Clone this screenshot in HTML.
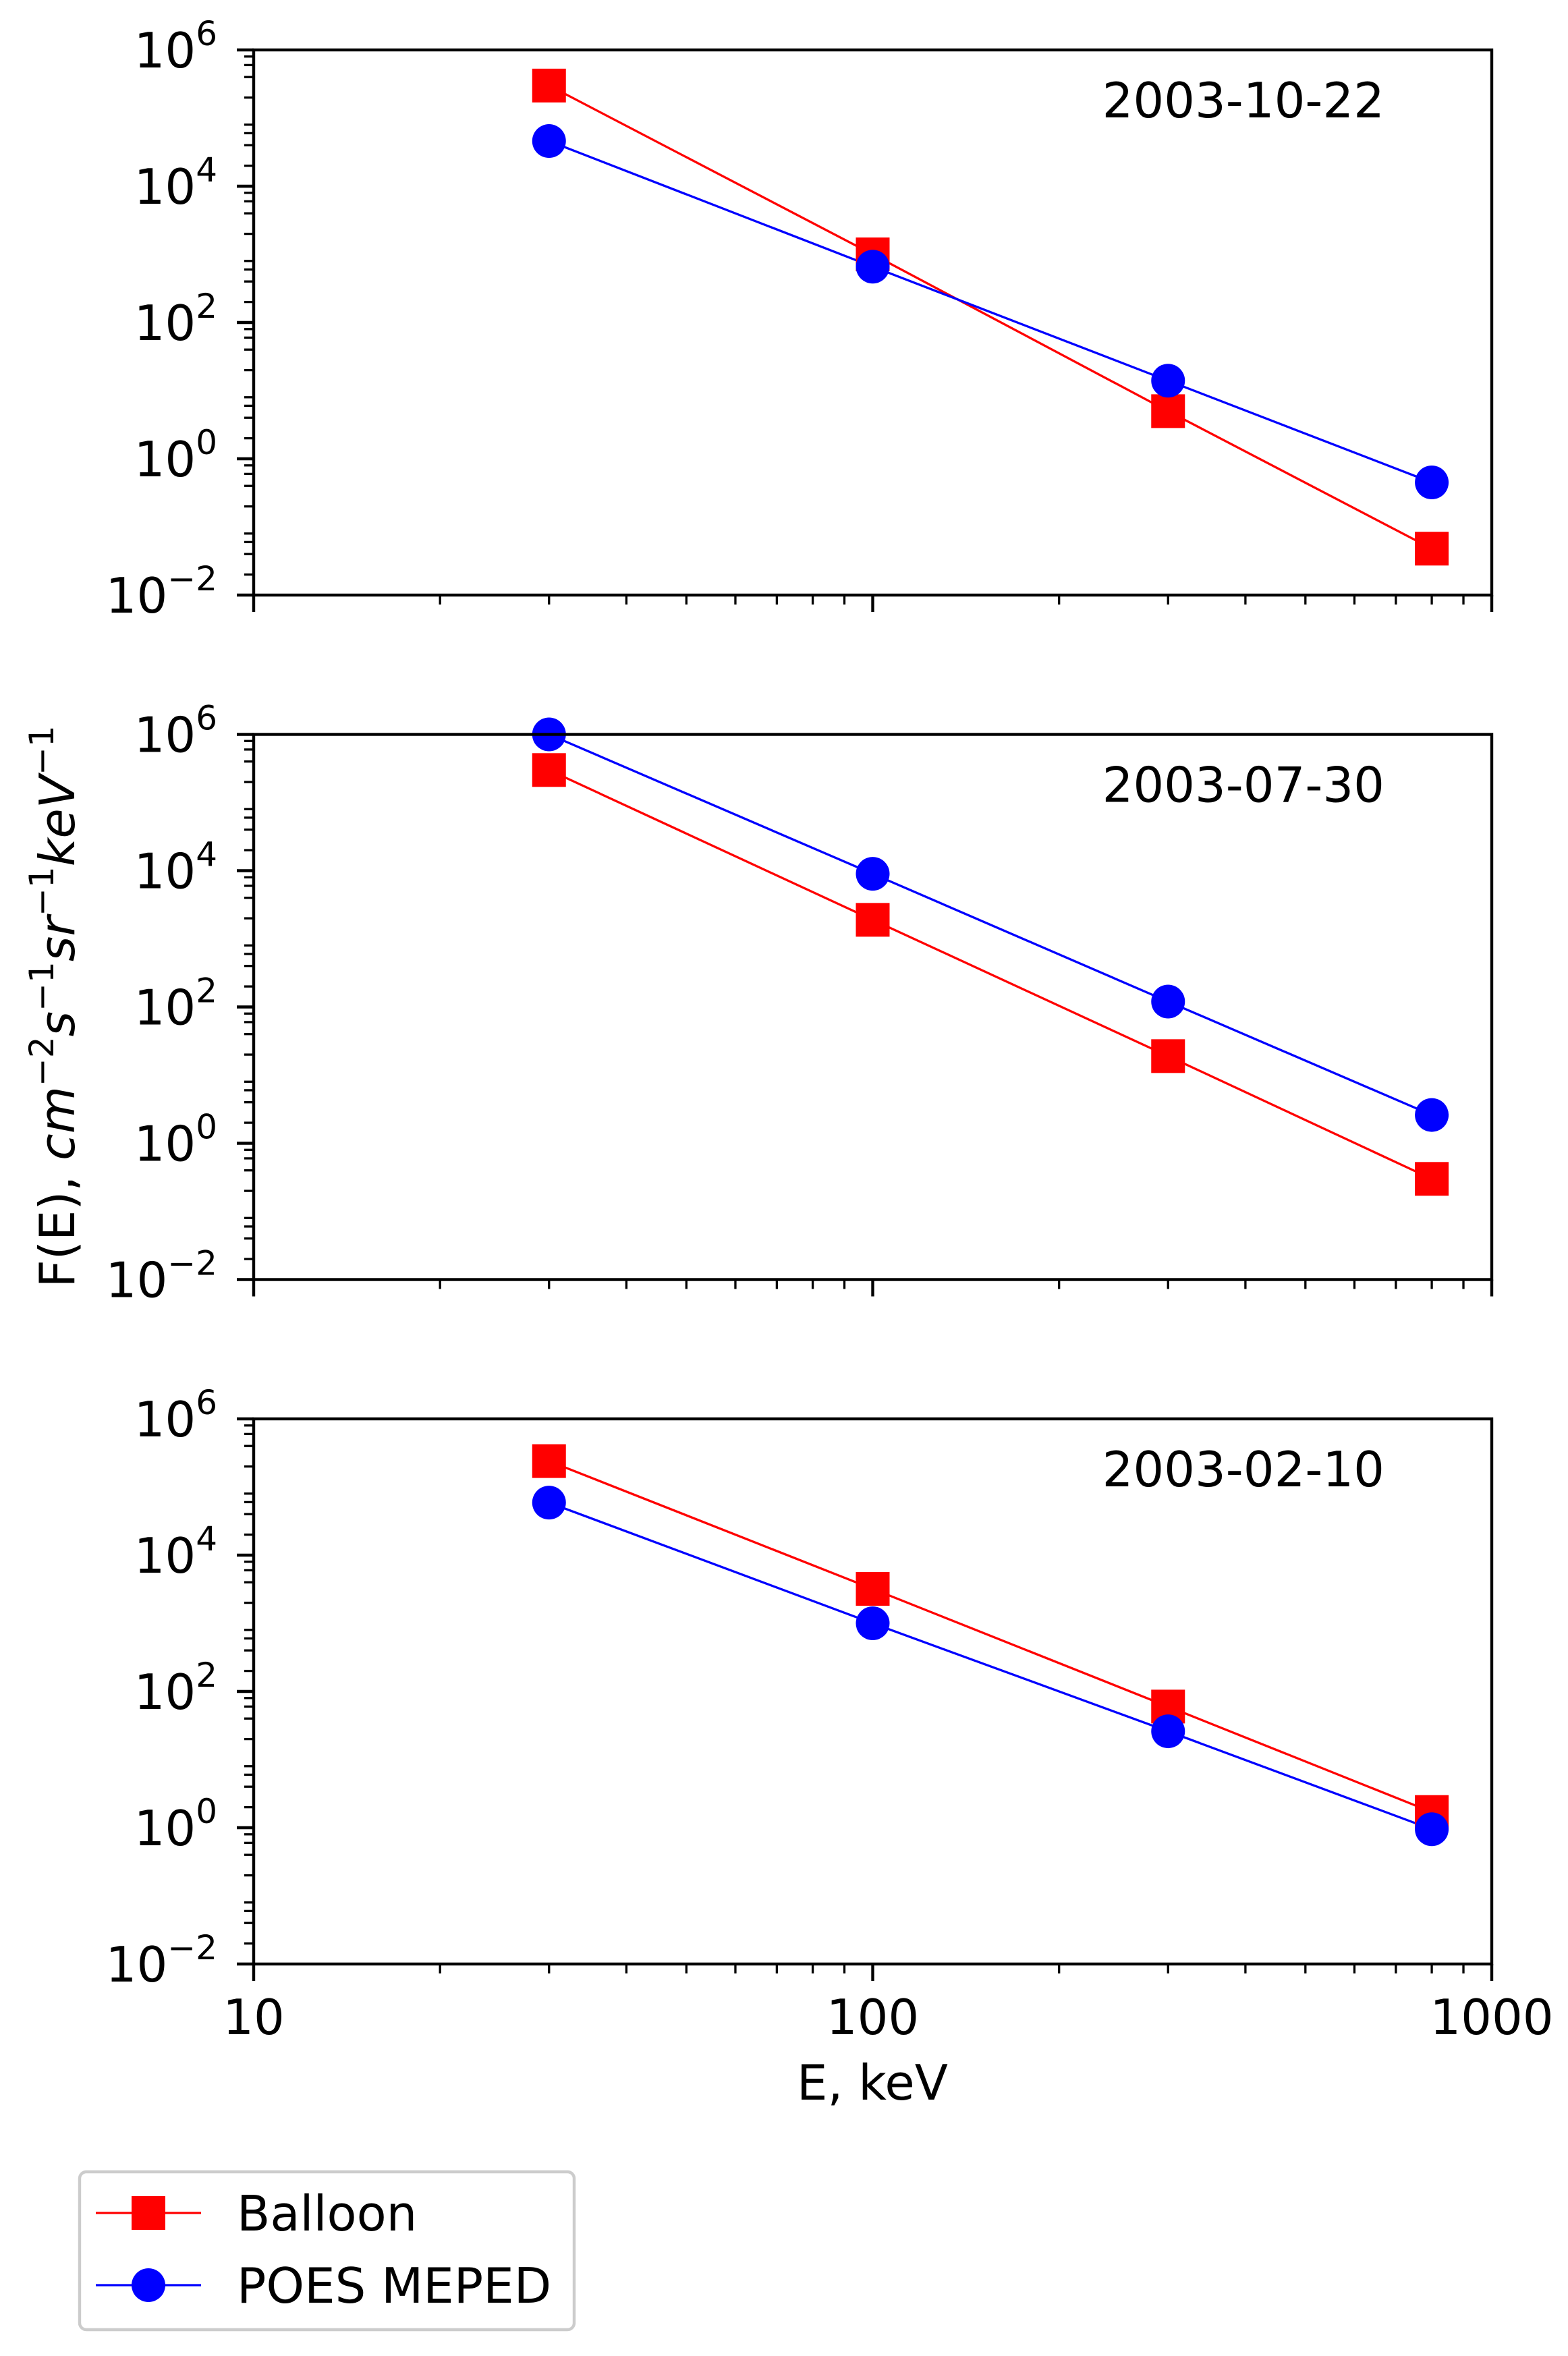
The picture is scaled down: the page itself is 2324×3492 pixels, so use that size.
<!DOCTYPE html>
<html><head><meta charset="utf-8"><style>
html,body{margin:0;padding:0;background:#fff;}
svg{display:block;}
text{font-family:"DejaVu Sans","Liberation Sans",sans-serif;fill:#000;}
</style></head><body>
<svg id="s" width="2324" height="3492" xmlns="http://www.w3.org/2000/svg"></svg>
<script>
const S=document.getElementById('s');
let h='';
const X0=376,X1=2211,DX=(X1-X0)/2;
const fx=v=>X0+DX*Math.log10(v/10);
const tops=[74,1088.5,2103];
const DY=101;
const FS=72;
const data=[
 {d:'2003-10-22',b:[3e5,1e3,5,0.048],p:[4.6e4,660,14,0.45]},
 {d:'2003-07-30',b:[3e5,1.9e3,19,0.3],p:[1e6,9e3,120,2.6]},
 {d:'2003-02-10',b:[2.4e5,3.2e3,60,1.7],p:[5.9e4,1e3,26,0.95]}
];
const xs=[30,100,300,800];
tops.forEach((T,i)=>{
 const B=T+8*DY;
 const fy=v=>T+DY*(6-Math.log10(v));
 for(let k=-2;k<6;k++){for(const m of [2,4,6,8]){const y=fy(m*Math.pow(10,k));h+=`<line x1="${X0-14}" x2="${X0}" y1="${y}" y2="${y}" stroke="#000" stroke-width="3.3"/>`;}}
 [6,4,2,0,-2].forEach(e=>{const y=fy(Math.pow(10,e));h+=`<line x1="${X0-25}" x2="${X0}" y1="${y}" y2="${y}" stroke="#000" stroke-width="4.4"/>`;
  h+=`<text x="322" y="${y+26}" font-size="${FS}" text-anchor="end">10<tspan dy="-33" font-size="50">${e<0?'−'+(-e):e}</tspan></text>`;});
 for(let k=1;k<3;k++)for(let m=2;m<10;m++){const x=fx(m*Math.pow(10,k));h+=`<line x1="${x}" x2="${x}" y1="${B}" y2="${B+14}" stroke="#000" stroke-width="3.3"/>`;}
 [10,100,1000].forEach(v=>{const x=fx(v);h+=`<line x1="${x}" x2="${x}" y1="${B}" y2="${B+25}" stroke="#000" stroke-width="4.4"/>`;});
 const D=data[i];
 const pts=a=>a.map((v,j)=>fx(xs[j])+','+fy(v)).join(' ');
 h+=`<polyline points="${pts(D.b)}" fill="none" stroke="#f00" stroke-width="3.3"/>`;
 h+=`<polyline points="${pts(D.p)}" fill="none" stroke="#00f" stroke-width="3.3"/>`;
 D.b.forEach((v,j)=>{h+=`<rect x="${fx(xs[j])-25}" y="${fy(v)-25}" width="50" height="50" fill="#f00"/>`;});
 D.p.forEach((v,j)=>{h+=`<circle cx="${fx(xs[j])}" cy="${fy(v)}" r="25" fill="#00f"/>`;});
 h+=`<rect x="${X0}" y="${T}" width="${X1-X0}" height="${B-T}" fill="none" stroke="#000" stroke-width="4.4"/>`;
 h+=`<text x="2052" y="${T+100}" font-size="${FS}" text-anchor="end">${D.d}</text>`;
 if(i==2){[10,100,1000].forEach(v=>{h+=`<text x="${fx(v)}" y="${B+104}" font-size="${FS}" text-anchor="middle">${v}</text>`;});}
});
h+=`<text x="1293" y="3112" font-size="${FS}" text-anchor="middle">E, keV</text>`;
h+=`<text transform="translate(110,1492) rotate(-90)" font-size="${FS}" text-anchor="middle">F(E), <tspan font-style="italic">cm</tspan><tspan dy="-31" font-size="50">−2</tspan><tspan dy="31" font-style="italic">s</tspan><tspan dy="-31" font-size="50">−1</tspan><tspan dy="31" font-style="italic">sr</tspan><tspan dy="-31" font-size="50">−1</tspan><tspan dy="31" font-style="italic">keV</tspan><tspan dy="-31" font-size="50">−1</tspan></text>`;
h+=`<rect x="118" y="3219" width="733" height="234" rx="10" fill="#fff" stroke="#ccc" stroke-width="4.4"/>`;
h+=`<line x1="142" x2="298" y1="3280" y2="3280" stroke="#f00" stroke-width="3.3"/><rect x="195" y="3255" width="50" height="50" fill="#f00"/>`;
h+=`<text x="351" y="3306" font-size="${FS}">Balloon</text>`;
h+=`<line x1="142" x2="298" y1="3387" y2="3387" stroke="#00f" stroke-width="3.3"/><circle cx="220" cy="3387" r="25" fill="#00f"/>`;
h+=`<text x="351" y="3413" font-size="${FS}">POES MEPED</text>`;
S.innerHTML=h;
</script>
</body></html>
